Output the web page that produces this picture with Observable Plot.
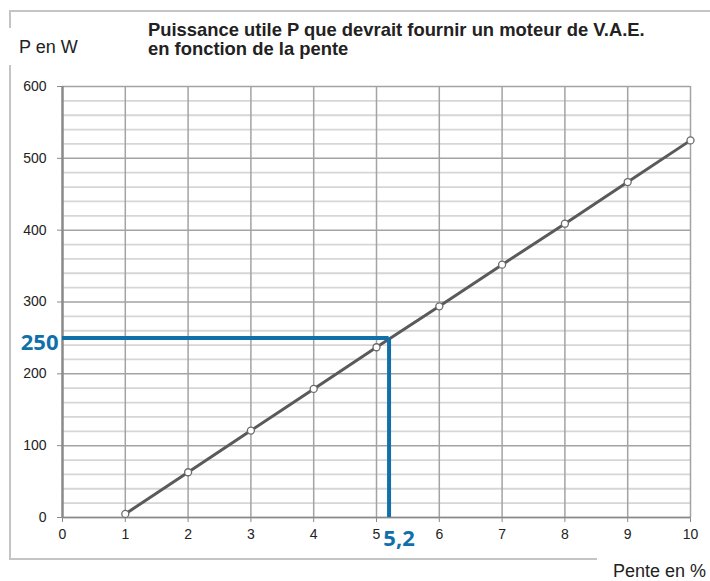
<!DOCTYPE html>
<html>
<head>
<meta charset="utf-8">
<script src="https://cdn.jsdelivr.net/npm/d3@7"></script>
<script src="https://cdn.jsdelivr.net/npm/@observablehq/plot@0.6"></script>
<style>
  html, body { margin: 0; padding: 0; background: #fff; }
  #chart { width: 710px; height: 581px; }
  #chart g[aria-label$="tick label"] text { font-size: 14px !important; }
</style>
</head>
<body>
<div id="chart"></div>
<script>
// ---- data ----
const slopePct = [1, 2, 3, 4, 5, 6, 7, 8, 9, 10];
const powerW = [5, 63, 121, 179, 237, 294, 352, 409, 467, 525];
const readSlope = [5.2];
const readPower = [250];
const xTicks = [0, 1, 2, 3, 4, 5, 6, 7, 8, 9, 10];
const yTicks = [0, 100, 200, 300, 400, 500, 600];
const yMinor = d3.range(20, 600, 20).filter(v => v % 100 !== 0);
const titleLines = ["Puissance utile P que devrait fournir un moteur de V.A.E.", "en fonction de la pente"];
const yLabel = "P en W";
const xLabel = "Pente en %";

const blue = "#1170aa";
const font = "'Liberation Sans', Arial, sans-serif";
const pts = slopePct.map((x, i) => ({x, y: powerW[i]}));

const chart = Plot.plot({
  width: 710,
  height: 581,
  marginLeft: 62,
  marginRight: 20,
  marginTop: 86,
  marginBottom: 64,
  style: {fontFamily: font, fontSize: "14px", background: "#fff", color: "#222"},
  x: {domain: [0, 10]},
  y: {domain: [0, 600]},
  marks: [
    Plot.ruleY(yMinor, {stroke: "#d6d6d6", strokeWidth: 1.8}),
    Plot.ruleY(yTicks, {stroke: "#a3a3a3", strokeWidth: 1.5}),
    Plot.ruleX(xTicks.slice(1), {stroke: "#a3a3a3", strokeWidth: 1.5}),
    Plot.ruleX([0], {stroke: "#8a8a8a", strokeWidth: 2.5}),
    Plot.ruleY([0], {stroke: "#8a8a8a", strokeWidth: 1.5}),
    Plot.axisY(yTicks, {tickSize: 5, tickPadding: 11, stroke: "#8a8a8a", label: null, fontSize: 14}),
    Plot.axisX(xTicks, {tickSize: 5, tickPadding: 7, stroke: "#8a8a8a", label: null, fontSize: 14}),
    Plot.line(pts, {x: "x", y: "y", stroke: "#5a5a5a", strokeWidth: 3}),
    Plot.dot(pts, {x: "x", y: "y", r: 3.5, fill: "#fff", stroke: "#6a6a6a", strokeWidth: 1.3}),
    Plot.ruleY(readPower, {x1: 0, x2: readSlope[0], stroke: blue, strokeWidth: 4}),
    Plot.ruleX(readSlope, {y1: readPower[0], y2: 0, stroke: blue, strokeWidth: 4, clip: false}),
    Plot.text(readPower, {x: 0, y: d => d, text: d => String(d), textAnchor: "end", dx: -4, dy: 5,
      fill: blue, fontSize: 22, fontWeight: "bold", fontFamily: "'Open Sans', sans-serif"}),
    Plot.text(readSlope, {x: d => d, y: 0, text: d => String(d).replace(".", ","), dx: 10, dy: 21,
      fill: blue, fontSize: 22, fontWeight: "bold", fontFamily: "'Open Sans', sans-serif"})
  ]
});

const svg = d3.select(chart);

// outer frame (partial, as in the reference)
const frame = svg.insert("g", ":first-child").attr("fill", "none").attr("stroke", "#c4c4c4").attr("stroke-width", 2);
frame.append("path").attr("d", "M710,11 H10 V28");
frame.append("path").attr("d", "M10,65 V559 H597");

const common = s => s.attr("font-family", font).attr("fill", "#222").attr("text-anchor", "start");
svg.append("text").call(common).attr("x", 19).attr("y", 53).attr("font-size", 18).text(yLabel);
const t = svg.append("text").call(common).attr("font-size", 18.4).attr("font-weight", "bold");
titleLines.forEach((s, i) => t.append("tspan").attr("x", 148).attr("y", 36 + i * 19).text(s));
svg.append("text").call(common).attr("x", 706).attr("y", 577).attr("text-anchor", "end")
  .attr("font-size", 18).text(xLabel);

document.getElementById("chart").appendChild(chart);
</script>
</body>
</html>
